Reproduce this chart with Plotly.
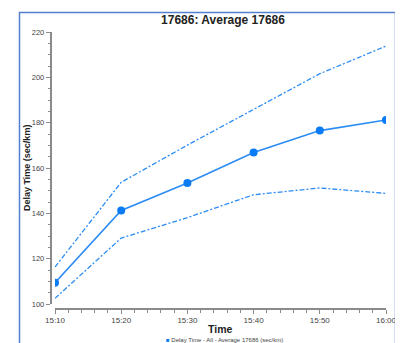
import plotly.graph_objects as go

times = ["15:10", "15:20", "15:30", "15:40", "15:50", "16:00"]
mean_vals = [109.4, 141.3, 153.4, 166.8, 176.5, 181.2]
upper_vals = [116.3, 153.7, 170.1, 185.9, 201.6, 213.8]
lower_vals = [102.5, 129.1, 138.1, 148.2, 151.2, 148.8]

title_text = "17686: Average 17686"
legend_text = "Delay Time - All - Average 17686 (sec/km)"
x_title = "Time"
y_title = "Delay Time (sec/km)"

OFF = 8  # default page body margin
W, H = 403 - OFF, 343 - OFF
x_dates = ["2024-01-01 " + t + ":00" for t in times]

def px(v):
    return (v - OFF) / W

def py(v):
    return (H - (v - OFF)) / H

line_col = "#2C8CF4"
mark_col = "#0A7BF5"
axis_col = "#8A8A8A"
text_col = "#333333"
font = "Liberation Sans"

fig = go.Figure()
fig.add_trace(go.Scatter(x=x_dates, y=upper_vals, mode="lines",
                         line=dict(color=line_col, width=1.3, dash="5px,2px,2px,2px"),
                         showlegend=False, hoverinfo="skip"))
fig.add_trace(go.Scatter(x=x_dates, y=lower_vals, mode="lines",
                         line=dict(color=line_col, width=1.3, dash="5px,2px,2px,2px"),
                         showlegend=False, hoverinfo="skip"))
fig.add_trace(go.Scatter(x=x_dates, y=mean_vals, mode="lines+markers",
                         name=legend_text,
                         line=dict(color=line_col, width=1.6),
                         marker=dict(color=mark_col, size=8),
                         showlegend=False))

fig.update_layout(
    width=W, height=H,
    margin=dict(l=0, r=0, t=0, b=0, autoexpand=False),
    paper_bgcolor="white", plot_bgcolor="white",
    font=dict(family=font, color=text_col, size=8),
    showlegend=False,
    title=dict(text="<b>" + title_text + "</b>", x=px(223), y=py(19.5),
               xanchor="center", yanchor="middle",
               font=dict(size=12, color="#222222", family=font)),
    xaxis=dict(
        type="date", domain=[px(55), px(386)],
        range=[x_dates[0], x_dates[-1]],
        anchor="free", position=py(309),
        showgrid=False, zeroline=False, automargin=False,
        showline=True, linecolor=axis_col, linewidth=1.5,
        ticks="outside", ticklen=4, tickcolor=axis_col, tickwidth=1,
        dtick=600000, tick0=x_dates[0], tickformat="%H:%M",
        tickfont=dict(size=8, color="#444444"),
        minor=dict(dtick=120000, ticks="outside", ticklen=3,
                   tickcolor=axis_col, showgrid=False),
    ),
    yaxis=dict(
        domain=[py(304), py(32)], range=[100, 220],
        anchor="free", position=px(50.5),
        showgrid=False, zeroline=False, automargin=False,
        showline=True, linecolor=axis_col, linewidth=1.5,
        ticks="outside", ticklen=4, tickcolor=axis_col, tickwidth=1,
        dtick=20, tick0=100,
        tickfont=dict(size=7.5, color="#444444"),
        minor=dict(dtick=5, ticks="outside", ticklen=2,
                   tickcolor=axis_col, showgrid=False),
    ),
    annotations=[
        dict(text="<b>" + x_title + "</b>", x=px(220), y=py(329),
             xref="paper", yref="paper", showarrow=False,
             xanchor="center", yanchor="middle",
             font=dict(size=10.5, color="#222222", family=font)),
        dict(text="<b>" + y_title + "</b>", x=px(27), y=py(168),
             xref="paper", yref="paper", showarrow=False, textangle=-90,
             xanchor="center", yanchor="middle",
             font=dict(size=9, color="#222222", family=font)),
        dict(text="<span style='color:" + mark_col + "'>■</span> " + legend_text,
             x=px(224), y=py(339.5),
             xref="paper", yref="paper", showarrow=False,
             xanchor="center", yanchor="middle",
             font=dict(size=6, color="#444444", family=font)),
    ],
    shapes=[
        dict(type="rect", xref="paper", yref="paper",
             x0=px(19.5), x1=px(395.5), y0=-0.2, y1=py(12.5),
             line=dict(color="#5580CF", width=1.5), fillcolor="rgba(0,0,0,0)"),
    ],
)

fig.write_html("out.html")
